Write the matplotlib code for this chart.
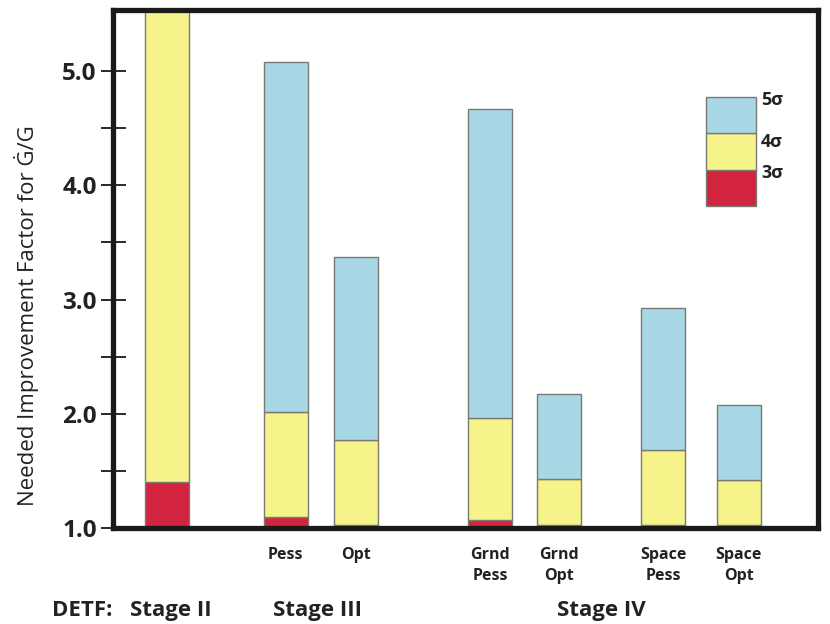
import numpy as np
import matplotlib.pyplot as plt
from matplotlib.patches import Rectangle

plt.rcParams['font.family'] = ['Open Sans', 'DejaVu Sans']

# Data (cumulative tops of each sigma band, bars start at 1.0)
labels = ['', 'Pess', 'Opt', 'Grnd\nPess', 'Grnd\nOpt', 'Space\nPess', 'Space\nOpt']
top_3sig = [1.40, 1.10, 1.03, 1.07, 1.03, 1.03, 1.03]
top_4sig = [6.00, 2.02, 1.77, 1.96, 1.43, 1.68, 1.42]
top_5sig = [6.00, 5.08, 3.37, 4.67, 2.17, 2.93, 2.08]
stages = ['Stage II', 'Stage III', 'Stage IV']

# layout
xpos = np.array([0, 1.69, 2.69, 4.61, 5.59, 7.08, 8.16])
stage_x = [0.05, 2.15, 6.2]
base = 1.0

c_red = '#d3243f'
c_yel = '#f6f38a'
c_blue = '#a8d8e5'
edge = '#7a7a72'

fig = plt.figure(figsize=(8.3, 6.24), dpi=100)
ax = fig.add_axes([0.1367, 0.1538, 0.8488, 0.8302])

r = np.array(top_3sig)
y = np.array(top_4sig)
b = np.array(top_5sig)
w = 0.63
ax.bar(xpos, r - base, bottom=base, width=w, color=c_red, edgecolor=edge, linewidth=1.0)
ax.bar(xpos, y - r, bottom=r, width=w, color=c_yel, edgecolor=edge, linewidth=1.0)
ax.bar(xpos, b - y, bottom=y, width=w, color=c_blue, edgecolor=edge, linewidth=1.0)

ax.set_xlim(-0.771, 9.293)
ax.set_ylim(1.0, 5.535)

for s in ax.spines.values():
    s.set_linewidth(3.8)
    s.set_color('#1a1a1a')

ax.set_yticks([1.0, 2.0, 3.0, 4.0, 5.0])
ax.set_yticklabels(['1.0', '2.0', '3.0', '4.0', '5.0'], fontsize=17.5, fontweight='bold', color='#222222')
ax.set_yticks([1.5, 2.5, 3.5, 4.5], minor=True)
ax.tick_params(axis='y', which='both', direction='inout', length=18, width=1.4, color='#2a2a2a', pad=3)

ax.set_xticks(xpos[1:])
ax.set_xticklabels(labels[1:], fontsize=11.5, fontweight='bold', color='#222222', linespacing=1.35)
ax.tick_params(axis='x', length=0, pad=14)

ax.set_ylabel('Needed Improvement Factor for Ġ/G', fontsize=16, color='#222222')
ax.yaxis.set_label_coords(-0.106, 0.41)

# stage labels under the chart
for sx, st in zip(stage_x, stages):
    ax.text(sx, -0.16, st, transform=ax.get_xaxis_transform(), ha='center', va='center',
            fontsize=16, fontweight='bold', color='#222222')
ax.text(-0.78, -0.16, 'DETF:', transform=ax.get_xaxis_transform(), ha='right', va='center',
        fontsize=16, fontweight='bold', color='#222222', clip_on=False)

# hand drawn legend block
lx, lw = 0.841, 0.071
for y0, y1, c in [(0.6216, 0.691, c_red), (0.691, 0.7625, c_yel), (0.7625, 0.832, c_blue)]:
    ax.add_patch(Rectangle((lx, y0), lw, y1 - y0, transform=ax.transAxes,
                           facecolor=c, edgecolor=edge, linewidth=1.0))
for ty, t in [(0.826, '5σ'), (0.745, '4σ'), (0.685, '3σ')]:
    ax.text(0.919, ty, t, transform=ax.transAxes, ha='left', va='center',
            fontsize=13, fontweight='bold', color='#222222')

fig.savefig('out.png', dpi=100)
